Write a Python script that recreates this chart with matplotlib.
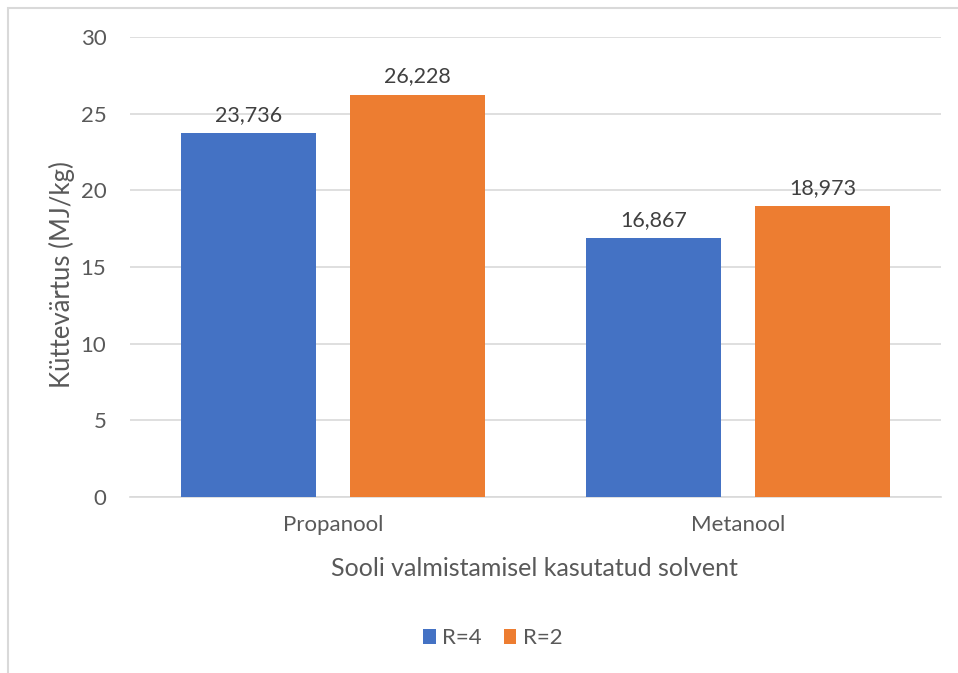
import numpy as np
import matplotlib.pyplot as plt
from matplotlib.patches import Rectangle

categories = ['Propanool', 'Metanool']
series_names = ['R=4', 'R=2']
r4_values = [23.736, 16.867]
r2_values = [26.228, 18.973]
colors = ['#4472C4', '#ED7D31']
text_color = '#595959'

plt.rcParams['font.family'] = ['Lato', 'DejaVu Sans']

fig = plt.figure(figsize=(9.58, 6.73), dpi=100)
ax = fig.add_axes([130 / 958, 1 - 497 / 673, 811 / 958, 460 / 673])

# chart border
fig.patches.append(Rectangle((8 / 958, -0.02), 1.0, 1 - 7.5 / 673 + 0.02,
                             transform=fig.transFigure, fill=False,
                             edgecolor='#d9d9d9', linewidth=1.5))

x = np.arange(len(categories))
w = 0.333
off = 0.208
for vals, name, c, dx in [(r4_values, series_names[0], colors[0], -off),
                          (r2_values, series_names[1], colors[1], off)]:
    bars = ax.bar(x + dx, vals, w, color=c, label=name, zorder=3)
    for b, v in zip(bars, vals):
        ax.text(b.get_x() + b.get_width() / 2, v + 0.55,
                f'{v:.3f}'.replace('.', ','), ha='center', va='bottom',
                fontsize=15.5, color='#404040')

ax.set_xlim(-0.5, 1.5)
ax.set_ylim(0, 30)
ax.set_yticks(range(0, 31, 5))
ax.set_xticks(x)
ax.set_xticklabels(categories)
ax.grid(axis='y', color='#d9d9d9', linewidth=1.2, zorder=0)
for s in ['top', 'right', 'left']:
    ax.spines[s].set_visible(False)
ax.spines['bottom'].set_color('#d9d9d9')
ax.spines['bottom'].set_linewidth(1.2)
ax.tick_params(length=0, labelsize=16, colors=text_color)
ax.tick_params(axis='x', pad=13)
ax.tick_params(axis='y', pad=17)

fig.text(62 / 958, 1 - 275 / 673, 'Küttevärtus (MJ/kg)', rotation=90,
         ha='center', va='center', fontsize=18.5, color=text_color)
fig.text(534 / 958, 1 - 568 / 673, 'Sooli valmistamisel kasutatud solvent',
         ha='center', va='center', fontsize=18, color=text_color)

ax.legend(loc='center', bbox_to_anchor=(493 / 958, 1 - 638 / 673),
          bbox_transform=fig.transFigure, ncol=2, frameon=False,
          fontsize=16, labelcolor=text_color, handlelength=0.55,
          handleheight=0.65, handletextpad=0.3, columnspacing=1.0)

fig.savefig('out.png', dpi=100)
